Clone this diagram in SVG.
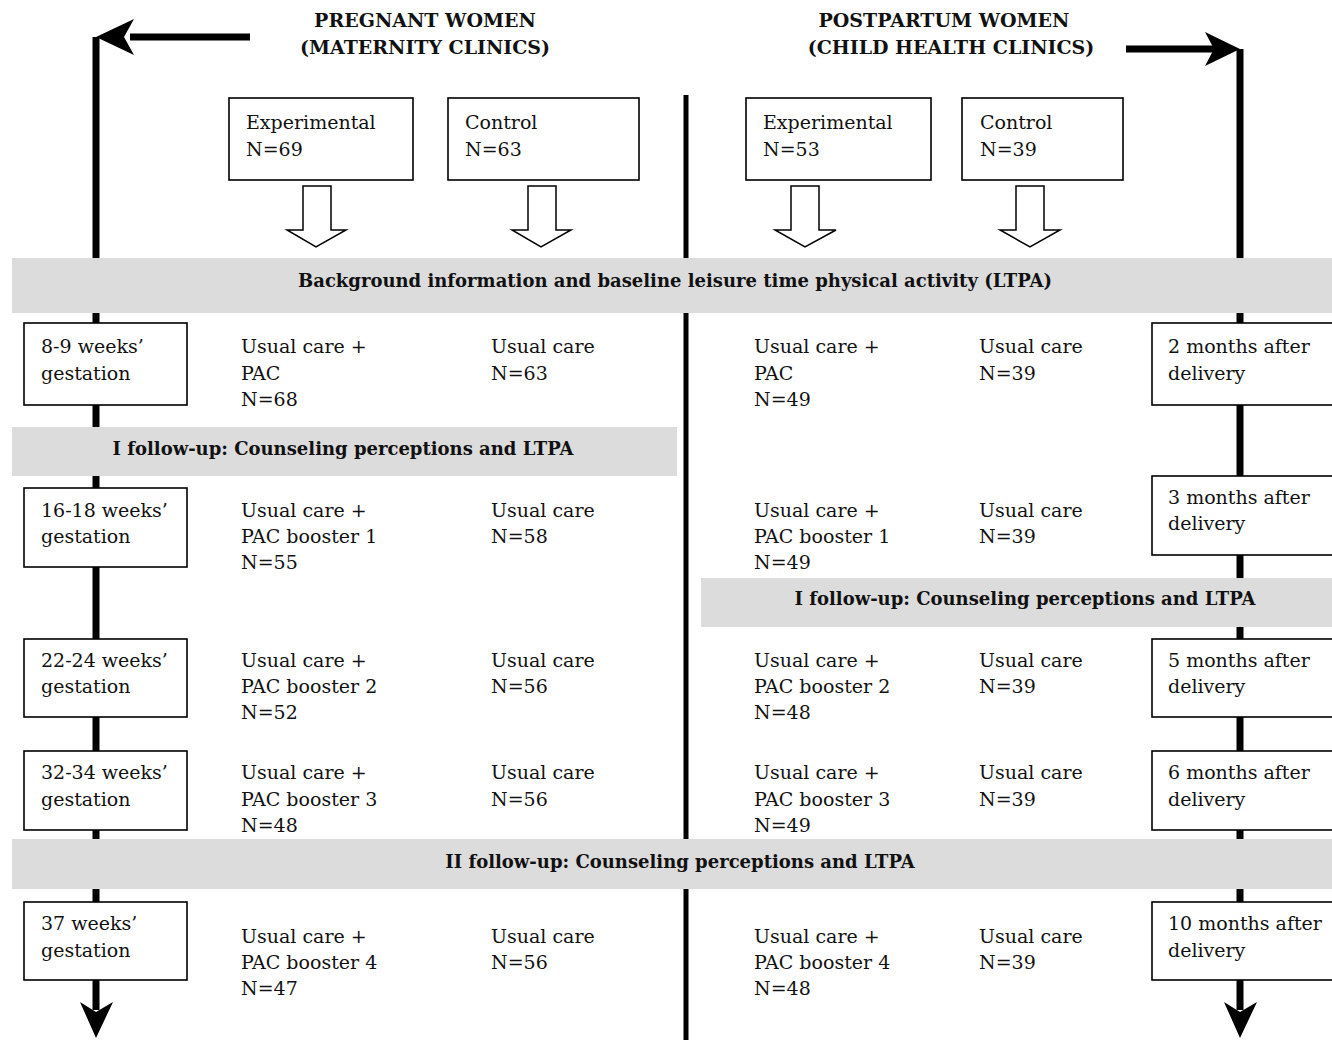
<svg xmlns="http://www.w3.org/2000/svg" width="1332" height="1040" viewBox="0 0 1332 1040">
<style>
text{font-family:"DejaVu Serif","Liberation Serif",serif;font-size:19px;fill:#111}
.b{font-weight:bold;font-size:18px}
.h{font-weight:bold;font-size:19px}
.box{fill:#fff;stroke:#000;stroke-width:1.6}
.band{fill:#dcdcdc}
.hollow{fill:#fff;stroke:#000;stroke-width:1.5}
.thick{stroke:#000;stroke-width:7;fill:none}
</style>
<defs>
<marker id="ah" markerWidth="10" markerHeight="10" refX="8" refY="5" orient="auto" markerUnits="userSpaceOnUse" viewBox="0 0 10 10">
<path d="M0,0 L10,5 L0,10 L2,5 Z" fill="#000"/>
</marker>
</defs>
<g id="connectors">
<line x1="686" y1="95" x2="686" y2="1040" stroke="#000" stroke-width="5"/>
<path d="M250,37 H130" class="thick"/>
<path d="M96,37 V1010" class="thick"/>
<path d="M96,37 L134,19 L124,37 L134,55 Z" fill="#000"/>
<path d="M96,1038 L80,1002 L96,1012 L113,1002 Z" fill="#000"/>
<path d="M1126,49 H1215" class="thick"/>
<path d="M1240,49 V1010" class="thick"/>
<path d="M1240,49 L1205,32 L1214,49 L1205,66 Z" fill="#000"/>
<path d="M1240,1038 L1224,1002 L1240,1012 L1257,1002 Z" fill="#000"/>
<path class="hollow" d="M303,186 H331 V230 H346 L316,247 L287,230 H303 Z"/>
<path class="hollow" d="M528,186 H556 V230 H571 L541,247 L512,230 H528 Z"/>
<path class="hollow" d="M791,186 H819 V230 H836 L805,247 L775,230 H791 Z"/>
<path class="hollow" d="M1016,186 H1044 V230 H1060 L1030,247 L1000,230 H1016 Z"/>
</g>
<g id="headers">
<text class="h" x="425" y="27" text-anchor="middle">PREGNANT WOMEN</text>
<text class="h" x="425" y="54" text-anchor="middle">(MATERNITY CLINICS)</text>
<text class="h" x="944" y="27" text-anchor="middle">POSTPARTUM WOMEN</text>
<text class="h" x="951" y="54" text-anchor="middle">(CHILD HEALTH CLINICS)</text>
</g>
<g id="group-pregnant-exp"><rect class="box" x="229" y="98" width="184" height="82"/><text x="246" y="129">Experimental</text><text x="246" y="156">N=69</text></g>
<g id="group-pregnant-ctrl"><rect class="box" x="448" y="98" width="191" height="82"/><text x="465" y="129">Control</text><text x="465" y="156">N=63</text></g>
<g id="group-post-exp"><rect class="box" x="746" y="98" width="185" height="82"/><text x="763" y="129">Experimental</text><text x="763" y="156">N=53</text></g>
<g id="group-post-ctrl"><rect class="box" x="962" y="98" width="161" height="82"/><text x="980" y="129">Control</text><text x="980" y="156">N=39</text></g>
<g id="band-baseline"><rect class="band" x="12" y="258" width="1320" height="55"/><text class="b" x="675" y="287" text-anchor="middle">Background information and baseline leisure time physical activity (LTPA)</text></g>
<g id="band-fu1-left"><rect class="band" x="12" y="427" width="665" height="49"/><text class="b" x="343" y="455" text-anchor="middle">I follow-up: Counseling perceptions and LTPA</text></g>
<g id="band-fu1-right"><rect class="band" x="701" y="578" width="631" height="49"/><text class="b" x="1025" y="605" text-anchor="middle">I follow-up: Counseling perceptions and LTPA</text></g>
<g id="band-fu2"><rect class="band" x="12" y="839" width="1320" height="50"/><text class="b" x="680" y="868" text-anchor="middle">II follow-up: Counseling perceptions and LTPA</text></g>
<g id="t1"><rect class="box" x="24" y="323" width="163" height="82"/><text x="41" y="353">8-9 weeks’</text><text x="41" y="380">gestation</text></g>
<g id="t2"><rect class="box" x="24" y="488" width="163" height="79"/><text x="41" y="517">16-18 weeks’</text><text x="41" y="543">gestation</text></g>
<g id="t3"><rect class="box" x="24" y="639" width="163" height="78"/><text x="41" y="667">22-24 weeks’</text><text x="41" y="693">gestation</text></g>
<g id="t4"><rect class="box" x="24" y="751" width="163" height="79"/><text x="41" y="779">32-34 weeks’</text><text x="41" y="806">gestation</text></g>
<g id="t5"><rect class="box" x="24" y="902" width="163" height="78"/><text x="41" y="930">37 weeks’</text><text x="41" y="957">gestation</text></g>
<g id="p1"><rect class="box" x="1152" y="323" width="190" height="82"/><text x="1168" y="353">2 months after</text><text x="1168" y="380">delivery</text></g>
<g id="p2"><rect class="box" x="1152" y="476" width="190" height="79"/><text x="1168" y="504">3 months after</text><text x="1168" y="530">delivery</text></g>
<g id="p3"><rect class="box" x="1152" y="639" width="190" height="78"/><text x="1168" y="667">5 months after</text><text x="1168" y="693">delivery</text></g>
<g id="p4"><rect class="box" x="1152" y="751" width="190" height="79"/><text x="1168" y="779">6 months after</text><text x="1168" y="806">delivery</text></g>
<g id="p5"><rect class="box" x="1152" y="902" width="190" height="78"/><text x="1168" y="930">10 months after</text><text x="1168" y="957">delivery</text></g>
<g id="row1">
<text x="241" y="353">Usual care +</text><text x="241" y="380">PAC</text><text x="241" y="406">N=68</text>
<text x="491" y="353">Usual care</text><text x="491" y="380">N=63</text>
<text x="754" y="353">Usual care +</text><text x="754" y="380">PAC</text><text x="754" y="406">N=49</text>
<text x="979" y="353">Usual care</text><text x="979" y="380">N=39</text>
</g>
<g id="row2">
<text x="241" y="517">Usual care +</text><text x="241" y="543">PAC booster 1</text><text x="241" y="569">N=55</text>
<text x="491" y="517">Usual care</text><text x="491" y="543">N=58</text>
<text x="754" y="517">Usual care +</text><text x="754" y="543">PAC booster 1</text><text x="754" y="569">N=49</text>
<text x="979" y="517">Usual care</text><text x="979" y="543">N=39</text>
</g>
<g id="row3">
<text x="241" y="667">Usual care +</text><text x="241" y="693">PAC booster 2</text><text x="241" y="719">N=52</text>
<text x="491" y="667">Usual care</text><text x="491" y="693">N=56</text>
<text x="754" y="667">Usual care +</text><text x="754" y="693">PAC booster 2</text><text x="754" y="719">N=48</text>
<text x="979" y="667">Usual care</text><text x="979" y="693">N=39</text>
</g>
<g id="row4">
<text x="241" y="779">Usual care +</text><text x="241" y="806">PAC booster 3</text><text x="241" y="832">N=48</text>
<text x="491" y="779">Usual care</text><text x="491" y="806">N=56</text>
<text x="754" y="779">Usual care +</text><text x="754" y="806">PAC booster 3</text><text x="754" y="832">N=49</text>
<text x="979" y="779">Usual care</text><text x="979" y="806">N=39</text>
</g>
<g id="row5">
<text x="241" y="943">Usual care +</text><text x="241" y="969">PAC booster 4</text><text x="241" y="995">N=47</text>
<text x="491" y="943">Usual care</text><text x="491" y="969">N=56</text>
<text x="754" y="943">Usual care +</text><text x="754" y="969">PAC booster 4</text><text x="754" y="995">N=48</text>
<text x="979" y="943">Usual care</text><text x="979" y="969">N=39</text>
</g>
</svg>
